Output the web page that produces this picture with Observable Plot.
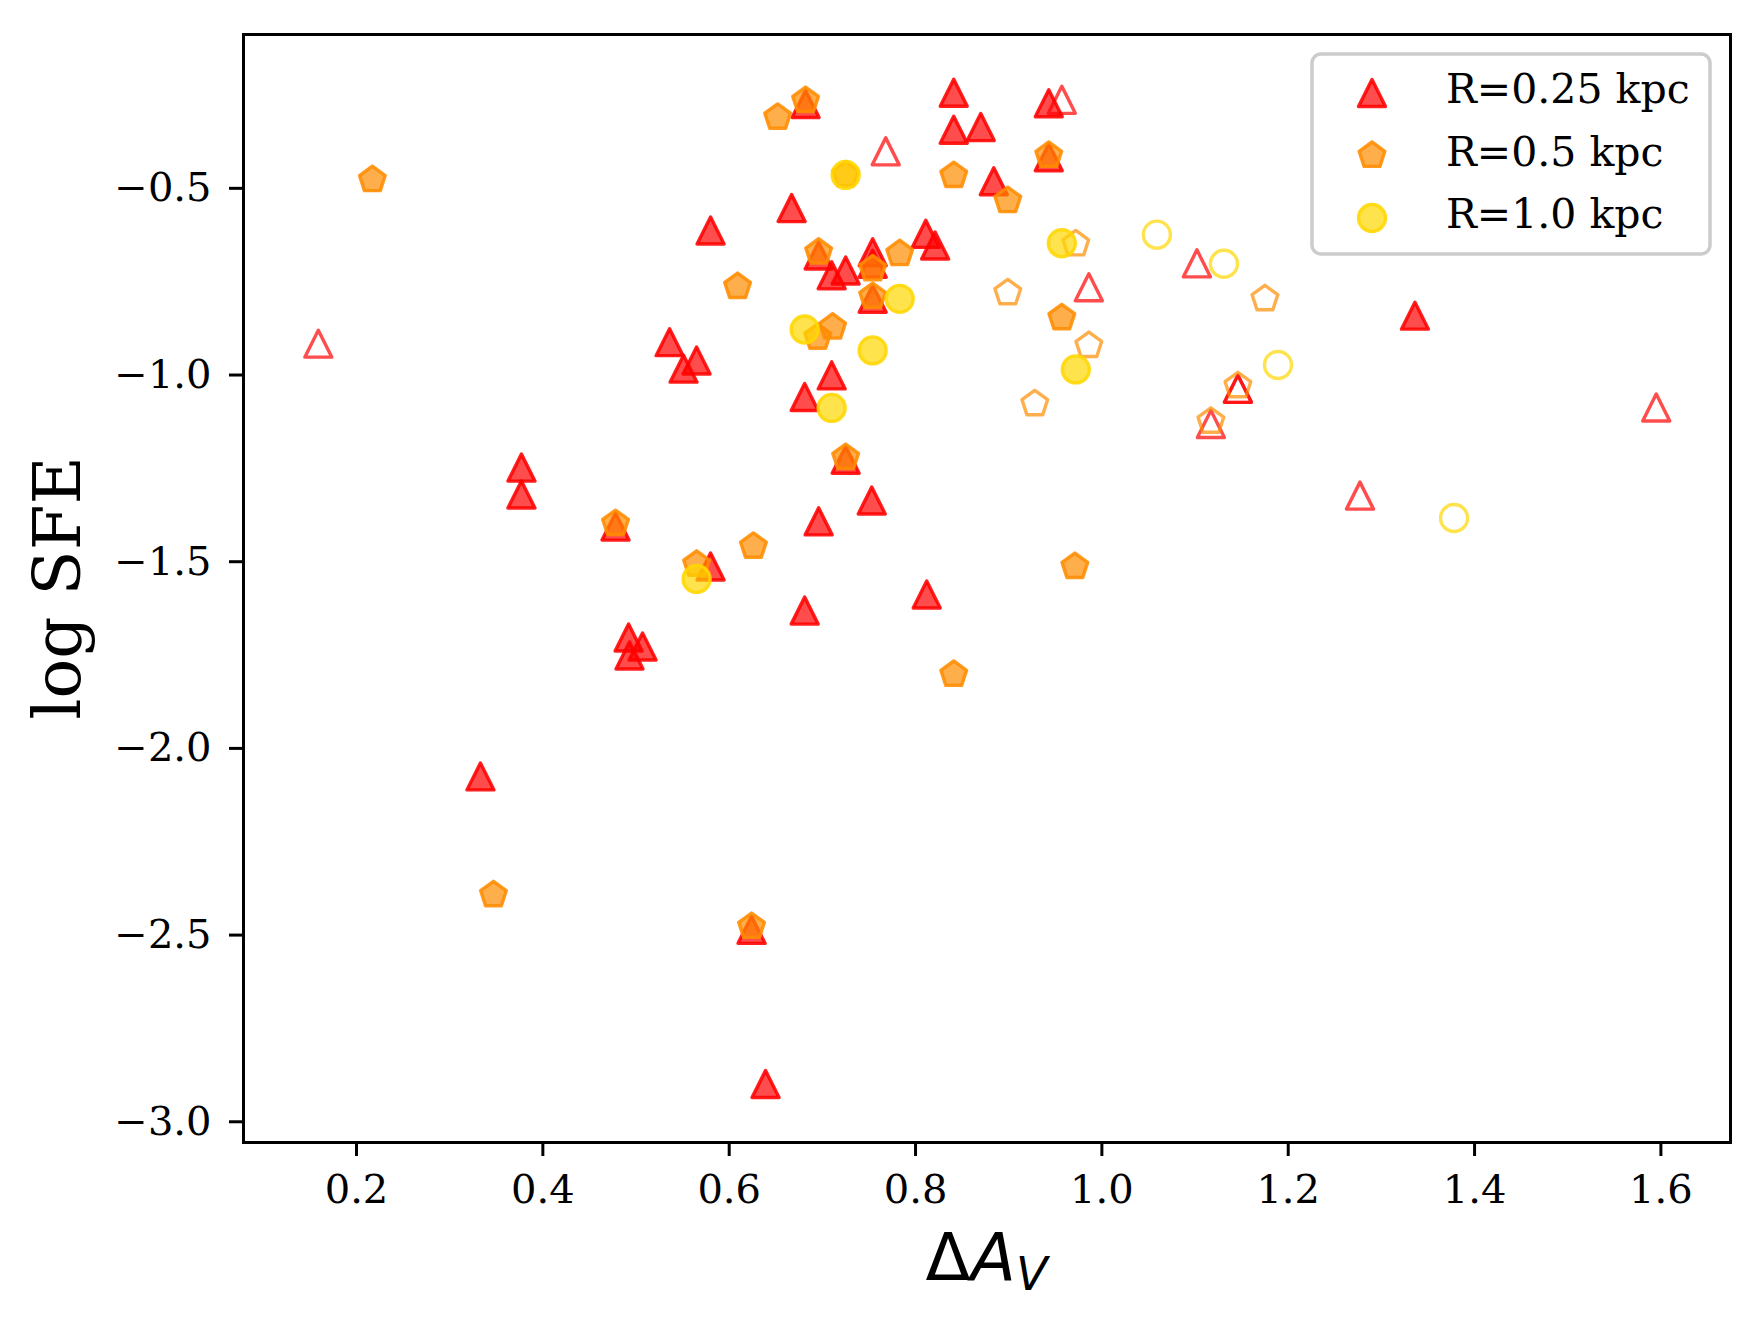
<!DOCTYPE html>
<html>
<head>
<meta charset="utf-8">
<script src="https://cdn.jsdelivr.net/npm/d3@7"></script>
<script src="https://cdn.jsdelivr.net/npm/@observablehq/plot@0.6"></script>
<style>
  html, body { margin: 0; padding: 0; background: #fff; }
  svg { display: block; }
</style>
</head>
<body>
<div id="chart"></div>
<script>
// ---- data (ΔA_V, log SFE) ----
const r025Filled = [[0.377,-1.248],[0.377,-1.320],[0.478,-1.406],[0.492,-1.703],[0.507,-1.727],[0.493,-1.751],[0.333,-2.075],[0.682,-0.274],[0.841,-0.244],[0.841,-0.343],[0.870,-0.336],[0.884,-0.481],[0.667,-0.553],[0.580,-0.613],[0.696,-0.680],[0.710,-0.733],[0.725,-0.720],[0.754,-0.671],[0.754,-0.702],[0.811,-0.622],[0.821,-0.653],[0.754,-0.796],[0.536,-0.912],[0.565,-0.961],[0.551,-0.983],[0.710,-1.001],[0.943,-0.417],[0.943,-0.272],[0.681,-1.059],[0.725,-1.227],[0.753,-1.336],[0.696,-1.392],[0.580,-1.513],[0.681,-1.631],[0.812,-1.588],[0.624,-2.486],[0.639,-2.899],[1.336,-0.841]];
const r025Open = [[0.159,-0.916],[0.768,-0.401],[0.957,-0.263],[0.986,-0.765],[1.102,-0.701],[1.146,-1.037],[1.146,-1.037],[1.117,-1.131],[1.595,-1.087],[1.277,-1.323]];
const r05Filled = [[0.217,-0.477],[0.347,-2.392],[0.478,-1.398],[0.682,-0.265],[0.652,-0.310],[0.725,-0.464],[0.841,-0.466],[0.943,-0.412],[0.899,-0.533],[0.696,-0.671],[0.754,-0.716],[0.783,-0.675],[0.609,-0.763],[0.754,-0.790],[0.695,-0.899],[0.711,-0.872],[0.957,-0.847],[0.725,-1.221],[0.626,-1.459],[0.565,-1.507],[0.971,-1.513],[0.841,-1.802],[0.624,-2.477]];
const r05Open = [[0.972,-0.649],[0.899,-0.780],[0.986,-0.921],[0.928,-1.077],[1.175,-0.796],[1.146,-1.029],[1.117,-1.124]];
const r10Filled = [[0.725,-0.464],[0.957,-0.647],[0.783,-0.796],[0.681,-0.878],[0.754,-0.934],[0.710,-1.088],[0.972,-0.985],[0.565,-1.546]];
const r10Open = [[1.059,-0.624],[1.131,-0.702],[1.189,-0.973],[1.378,-1.383]];

const legendLabels = ["R=0.25 kpc", "R=0.5 kpc", "R=1.0 kpc"];
const xTicks = [0.2, 0.4, 0.6, 0.8, 1.0, 1.2, 1.4, 1.6];
const yTicks = [-3.0, -2.5, -2.0, -1.5, -1.0, -0.5];

// ---- matplotlib-like marker symbols ----
const triangle = {draw(ctx, size) {
  const r = Math.sqrt(size / Math.PI);
  ctx.moveTo(0, -r); ctx.lineTo(r, r); ctx.lineTo(-r, r); ctx.closePath();
}};
const pentagon = {draw(ctx, size) {
  const r = Math.sqrt(size / Math.PI);
  for (let k = 0; k < 5; k++) {
    const a = -Math.PI / 2 + k * 2 * Math.PI / 5;
    const px = r * Math.cos(a), py = r * Math.sin(a);
    if (k === 0) ctx.moveTo(px, py); else ctx.lineTo(px, py);
  }
  ctx.closePath();
}};
const circle = {draw(ctx, size) {
  const r = Math.sqrt(size / Math.PI);
  ctx.moveTo(r, 0); ctx.arc(0, 0, r, 0, 2 * Math.PI);
}};

const series = [
  {color: "#ff0000", symbol: triangle, filled: r025Filled, open: r025Open},
  {color: "#ff8c00", symbol: pentagon, filled: r05Filled, open: r05Open},
  {color: "#ffd700", symbol: circle, filled: r10Filled, open: r10Open}
];

const R = 13.5, SW = 3.4, OP = 0.7, EOP = 0.88;
const marks = [];
for (const s of series) {
  marks.push(Plot.dot(s.filled, {x: d => d[0], y: d => d[1], symbol: s.symbol, r: R,
    fill: s.color, fillOpacity: OP, stroke: s.color, strokeOpacity: EOP, strokeWidth: SW, strokeLinejoin: "round"}));
  marks.push(Plot.dot(s.open, {x: d => d[0], y: d => d[1], symbol: s.symbol, r: R,
    fill: "none", stroke: s.color, strokeOpacity: OP, strokeWidth: SW, strokeLinejoin: "round"}));
}

const fmt = d => d.toFixed(1).replace("-", "\u2212");
const W = 1764, H = 1325, mL = 243, mR = 34, mT = 34, mB = 183;

const chart = Plot.plot({
  width: W, height: H,
  marginLeft: mL, marginRight: mR, marginTop: mT, marginBottom: mB,
  style: {background: "white", color: "black"},
  x: {domain: [0.0787, 1.6747]},
  y: {domain: [-3.0555, -0.088]},
  marks: [
    ...marks,
    Plot.frame({stroke: "black", strokeWidth: 3}),
    Plot.axisX({ticks: xTicks, tickFormat: fmt, tickSize: 14, tickPadding: 18, strokeWidth: 3,
      fontSize: 40, fontFamily: "DejaVu Serif", label: null}),
    Plot.axisY({ticks: yTicks, tickFormat: fmt, tickSize: 14, tickPadding: 18, strokeWidth: 3,
      fontSize: 40, fontFamily: "DejaVu Serif", label: null})
  ]
});
document.getElementById("chart").appendChild(chart);

// ---- axis labels & legend ----
const svg = d3.select(chart);
const xl = svg.append("text")
  .attr("x", mL + (W - mL - mR) / 2).attr("y", 1280)
  .attr("text-anchor", "middle")
  .attr("font-family", "DejaVu Sans").attr("font-size", 66).attr("fill", "black");
xl.append("tspan").text("\u0394");
xl.append("tspan").attr("font-style", "italic").text("A");
xl.append("tspan").attr("font-style", "italic").attr("font-size", 46).attr("dy", 10).text("V");

svg.append("text")
  .attr("transform", `translate(80, ${mT + (H - mT - mB) / 2}) rotate(-90)`)
  .attr("text-anchor", "middle")
  .attr("font-family", "DejaVu Serif").attr("font-size", 66).attr("fill", "black")
  .text("log SFE");

const lg = svg.append("g");
lg.append("rect").attr("x", 1312).attr("y", 54).attr("width", 398).attr("height", 200)
  .attr("rx", 9).attr("fill", "white").attr("fill-opacity", 0.8)
  .attr("stroke", "#cccccc").attr("stroke-width", 3.5);
const rows = [93, 155.5, 218];
series.forEach((s, i) => {
  const p = d3.path();
  s.symbol.draw(p, Math.PI * R * R);
  lg.append("path").attr("d", p.toString())
    .attr("transform", `translate(1372, ${rows[i]})`)
    .attr("fill", s.color).attr("fill-opacity", OP)
    .attr("stroke", s.color).attr("stroke-opacity", EOP)
    .attr("stroke-width", SW).attr("stroke-linejoin", "round");
  lg.append("text").attr("x", 1446).attr("y", rows[i] + 10)
    .attr("text-anchor", "start")
    .attr("font-family", "DejaVu Serif").attr("font-size", 41).attr("fill", "black")
    .text(legendLabels[i]);
});
</script>
</body>
</html>
